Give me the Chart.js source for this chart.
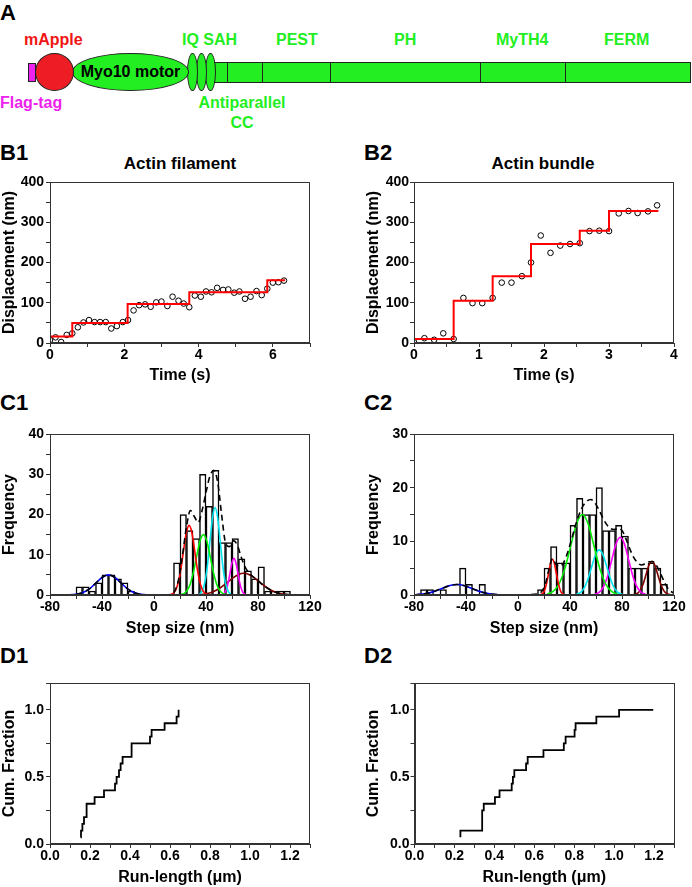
<!DOCTYPE html>
<html>
<head>
<meta charset="utf-8">
<script src="https://cdn.jsdelivr.net/npm/chart.js@4"></script>
<style>
body { margin: 0; background: #fff; }
#page { position: relative; width: 692px; height: 887px; overflow: hidden;
  font-family: "Liberation Sans", Arial, sans-serif; font-weight: bold; }
.t { position: absolute; white-space: nowrap; line-height: 1; }
.lbl { font-size: 22px; color: #000; }
.sub { font-size: 17px; color: #000; transform: translateX(-50%); }
.dom { font-size: 16px; color: #22ee22; }
.shape { position: absolute; box-sizing: border-box; border: 1px solid #222; }
canvas { position: absolute; }
</style>
</head>
<body>
<div id="page">
  <!-- panel A: construct schematic -->
  <div class="t lbl" style="left:0;top:2px">A</div>
  <div class="shape" style="left:214px;top:62px;width:477px;height:21px;background:#22ee22"></div>
  <div class="shape" style="left:227px;top:62px;width:1px;height:21px;border:0;background:#222"></div>
  <div class="shape" style="left:262px;top:62px;width:1px;height:21px;border:0;background:#222"></div>
  <div class="shape" style="left:330px;top:62px;width:1px;height:21px;border:0;background:#222"></div>
  <div class="shape" style="left:480px;top:62px;width:1px;height:21px;border:0;background:#222"></div>
  <div class="shape" style="left:565px;top:62px;width:1px;height:21px;border:0;background:#222"></div>
  <div class="shape" style="left:205px;top:53px;width:11px;height:38px;border-radius:50%;background:#22ee22"></div>
  <div class="shape" style="left:196px;top:53px;width:11px;height:38px;border-radius:50%;background:#22ee22"></div>
  <div class="shape" style="left:187px;top:53px;width:11px;height:38px;border-radius:50%;background:#22ee22"></div>
  <div class="shape" style="left:72px;top:53px;width:117px;height:38px;border-radius:50%;background:#22ee22;
       display:flex;align-items:center;justify-content:center;font-size:16px;color:#000">Myo10 motor</div>
  <div class="shape" style="left:35px;top:53px;width:39px;height:38px;border-radius:50%;background:#ee1c24"></div>
  <div class="shape" style="left:28px;top:63px;width:8px;height:19px;background:#ee22ee"></div>
  <div class="t dom" style="left:24px;top:32px;color:#f01414">mApple</div>
  <div class="t dom" style="left:182px;top:32px">IQ SAH</div>
  <div class="t dom" style="left:276px;top:32px">PEST</div>
  <div class="t dom" style="left:394px;top:32px">PH</div>
  <div class="t dom" style="left:496px;top:32px">MyTH4</div>
  <div class="t dom" style="left:604px;top:32px">FERM</div>
  <div class="t dom" style="left:0;top:95px;color:#ee22ee">Flag-tag</div>
  <div class="t dom" style="left:242px;top:95px;transform:translateX(-50%)">Antiparallel</div>
  <div class="t dom" style="left:242px;top:115px;transform:translateX(-50%)">CC</div>

  <div class="t lbl" style="left:0;top:142px">B1</div>
  <div class="t lbl" style="left:364px;top:142px">B2</div>
  <div class="t sub" style="left:180px;top:155px">Actin filament</div>
  <div class="t sub" style="left:543px;top:155px">Actin bundle</div>
  <div class="t lbl" style="left:0;top:392px">C1</div>
  <div class="t lbl" style="left:364px;top:392px">C2</div>
  <div class="t lbl" style="left:0;top:645px">D1</div>
  <div class="t lbl" style="left:364px;top:645px">D2</div>

  <canvas id="b1"></canvas>
  <canvas id="b2"></canvas>
  <canvas id="c1"></canvas>
  <canvas id="c2"></canvas>
  <canvas id="d1"></canvas>
  <canvas id="d2"></canvas>
</div>
<script>
// ---- B1: actin filament trace ----
const b1Time = [0, 0.15, 0.3, 0.45, 0.6, 0.75, 0.9, 1.05, 1.2, 1.35, 1.5, 1.65, 1.8, 1.96, 2.1,
  2.25, 2.4, 2.56, 2.71, 2.86, 3.0, 3.16, 3.3, 3.46, 3.6, 3.75, 3.9, 4.06, 4.2, 4.35,
  4.5, 4.66, 4.8, 4.96, 5.1, 5.25, 5.4, 5.56, 5.7, 5.85, 6.0, 6.15, 6.3];
const b1Disp = [7.5, 14, 2.5, 20, 24, 39, 51, 57, 52, 52, 52, 36, 42, 52, 57,
  81, 94, 96, 90, 101, 103, 92, 115, 105, 98, 89, 118, 115, 128, 126,
  137, 132, 133, 125, 128, 110, 115, 129, 119, 135, 150, 151, 155];
const b1StepTime = [0, 0.6, 2.09, 3.75, 5.85, 6.33];
const b1StepLevel = [16, 50, 97, 126, 156, 156];

// ---- B2: actin bundle trace ----
const b2Time = [0, 0.16, 0.31, 0.45, 0.61, 0.76, 0.9, 1.05, 1.21, 1.35, 1.5, 1.66, 1.8,
  1.95, 2.1, 2.25, 2.4, 2.55, 2.7, 2.85, 3.0, 3.15, 3.3, 3.44, 3.6, 3.74];
const b2Disp = [2, 12, 8, 24, 10, 112, 99, 99, 112, 150, 150, 166, 200,
  267, 224, 242, 246, 248, 278, 279, 278, 322, 328, 323, 327, 342];
const b2StepTime = [0, 0.61, 1.21, 1.8, 2.55, 3.0, 3.76];
const b2StepLevel = [10, 105, 166, 246, 279, 328, 328];

// ---- C1: step size histogram (bin start, 5 nm bins) and fitted peaks ----
const c1BinStart = [-60, -55, -50, -45, -40, -35, -30, -25, -20,
  15, 20, 25, 30, 35, 40, 45, 50, 55, 60, 65, 70, 75, 80, 85, 90, 95, 100];
const c1Count = [2, 2, 1, 3, 5, 5, 4, 3, 1,
  8, 20, 16, 14, 30, 22, 31, 13, 13, 14, 9, 6, 4, 7, 1, 1, 1, 1];
const c1BlueX = [-75, -70, -65, -60, -55, -50, -45, -40, -35, -30, -25, -20, -15, -10, -5, 0];
const c1BlueY = [0, 0.01, 0.03, 0.16, 0.55, 1.44, 2.87, 4.35, 5.0, 4.35, 2.87, 1.44, 0.55, 0.16, 0.03, 0];
const c1RedX = [13, 15, 17, 19, 21, 23, 25, 27, 29, 31, 33, 35, 37, 39, 41];
const c1RedY = [0.14, 0.49, 1.46, 3.56, 7.11, 11.66, 15.67, 17.3, 15.67, 11.66, 7.11, 3.56, 1.46, 0.49, 0.14];
const c1GreenX = [20.5, 23, 25.5, 28, 30.5, 33, 35.5, 38, 40.5, 43, 45.5, 48, 50.5, 53, 55.5];
const c1GreenY = [0.09, 0.36, 1.14, 2.88, 5.92, 9.92, 13.53, 15.0, 13.53, 9.92, 5.92, 2.88, 1.14, 0.36, 0.09];
const c1CyanX = [35, 37, 39, 41, 43, 45, 47, 49, 51, 53, 55, 57, 59];
const c1CyanY = [0.24, 0.95, 2.94, 7.05, 13.16, 19.15, 21.7, 19.15, 13.16, 7.05, 2.94, 0.95, 0.24];
const c1MagX = [52.5, 54, 55.5, 57, 58.5, 60, 61.5, 63, 64.5, 66, 67.5, 69, 70.5];
const c1MagY = [0.1, 0.4, 1.23, 2.95, 5.52, 8.03, 9.1, 8.03, 5.52, 2.95, 1.23, 0.4, 0.1];
const c1BrownX = [-80, 20, 30, 35, 40, 45, 50, 55, 60, 65, 69, 73, 78, 83, 88, 93, 98, 103, 108, 120];
const c1BrownY = [0, 0, 0.03, 0.1, 0.29, 0.73, 1.54, 2.73, 4.08, 5.11, 5.4, 5.11, 4.08, 2.73, 1.54, 0.73, 0.29, 0.1, 0.03, 0];
const c1SumX = [-75, -70, -65, -60, -55, -50, -45, -40, -35, -30, -25, -20, -15, -10, -5, 0, 5,
  10, 13, 16, 19, 22, 25, 28, 31, 34, 37, 40, 43, 46, 49, 52, 55, 58, 61, 64, 67, 70,
  73, 76, 79, 82, 85, 88, 91, 94, 97, 100, 105, 110, 120];
const c1SumY = [0, 0.01, 0.03, 0.16, 0.55, 1.44, 2.87, 4.35, 5.0, 4.35, 2.87, 1.44, 0.55, 0.16, 0.04, 0.01, 0,
  0.02, 0.2, 1, 4, 10, 17, 21, 19.5, 18, 21, 25.5, 29.5, 31, 28, 20, 13, 12, 13.5, 12.5, 9.5, 7,
  5.5, 4.6, 3.8, 3, 2.2, 1.55, 1, 0.62, 0.36, 0.19, 0.06, 0.02, 0];

// ---- C2 ----
const c2BinStart = [-75, -70, -60, -45, -40, -30,
  15, 20, 25, 30, 35, 40, 45, 50, 55, 60, 65, 70, 75, 80, 85, 90, 95, 100, 105, 110];
const c2Count = [1, 1, 1, 5, 2, 2,
  1, 5, 9, 6, 6, 13, 18, 15, 15, 20, 12, 12, 13, 11, 5, 5, 5, 6, 5, 2];
const c2BlueX = [-80, -77, -71, -65, -59, -53, -47, -41, -35, -29, -23, -17, -11, -5];
const c2BlueY = [0.04, 0.09, 0.26, 0.63, 1.18, 1.72, 1.95, 1.72, 1.18, 0.63, 0.26, 0.09, 0.02, 0];
const c2RedX = [17.5, 19, 20.5, 22, 23.5, 25, 26.5, 28, 29.5, 31, 32.5, 34, 35.5];
const c2RedY = [0.07, 0.29, 0.9, 2.16, 4.04, 5.87, 6.65, 5.87, 4.04, 2.16, 0.9, 0.29, 0.07];
const c2GreenX = [22.5, 27, 31.5, 36, 40.5, 45, 49.5, 54, 58.5, 63, 67.5, 72, 76.5];
const c2GreenY = [0.17, 0.66, 2.03, 4.87, 9.1, 13.24, 15.0, 13.24, 9.1, 4.87, 2.03, 0.66, 0.17];
const c2CyanX = [44.5, 47.5, 50.5, 53.5, 56.5, 59.5, 62.5, 65.5, 68.5, 71.5, 74.5, 77.5, 80.5];
const c2CyanY = [0.09, 0.37, 1.13, 2.73, 5.1, 7.41, 8.4, 7.41, 5.1, 2.73, 1.13, 0.37, 0.09];
const c2MagX = [59, 62.4, 65.6, 68.9, 72.1, 75.4, 78.6, 81.9, 85.1, 88.4, 91.6, 94.9, 98.1];
const c2MagY = [0.12, 0.47, 1.45, 3.49, 6.53, 9.48, 10.75, 9.48, 6.53, 3.49, 1.45, 0.47, 0.12];
const c2BrownX = [-80, 80, 89.5, 91.75, 94, 96.25, 98.5, 100.75, 103, 105.25, 107.5, 109.75, 112, 114.25, 116.5, 120];
const c2BrownY = [0, 0, 0.07, 0.28, 0.85, 2.05, 3.82, 5.56, 6.3, 5.56, 3.82, 2.05, 0.85, 0.28, 0.07, 0];
const c2SumX = [-80, -77, -71, -65, -59, -53, -47, -41, -35, -29, -23, -17, -11, -5,
  15, 18, 21, 24, 26.5, 29, 32, 35, 38, 41, 44, 47, 50, 53, 56, 59, 62, 65, 68, 71, 74, 77,
  80, 83, 86, 89, 92, 95, 98, 101, 104, 107, 110, 113, 116, 120];
const c2SumY = [0.04, 0.09, 0.26, 0.63, 1.18, 1.72, 1.95, 1.72, 1.18, 0.63, 0.26, 0.09, 0.02, 0,
  0.2, 0.6, 2, 5, 6.8, 5.8, 5.3, 6, 7.8, 10.2, 12.8, 15, 16.6, 17.5, 17.8, 17.2, 16, 14.5, 13.2, 12.4, 12.2, 12.4,
  12, 10.5, 8.6, 7, 6, 5.6, 5.8, 6.2, 6.2, 5.3, 3.8, 2.2, 1, 0.3];

// ---- D: cumulative run-length ----
const d1Run = [0.153, 0.155, 0.162, 0.17, 0.183, 0.183, 0.223, 0.27, 0.325, 0.333,
  0.345, 0.353, 0.363, 0.408, 0.408, 0.5, 0.508, 0.573, 0.633, 0.643];
const d1Frac = [0.05, 0.1, 0.15, 0.2, 0.25, 0.3, 0.35, 0.4, 0.45, 0.5,
  0.55, 0.6, 0.65, 0.7, 0.75, 0.8, 0.85, 0.9, 0.95, 1.0];
const d2Run = [0.23, 0.23, 0.339, 0.339, 0.339, 0.347, 0.403, 0.426, 0.487, 0.493,
  0.5, 0.559, 0.567, 0.646, 0.748, 0.757, 0.802, 0.807, 0.911, 1.025, 1.196];
const d2Frac = [0.05, 0.1, 0.15, 0.2, 0.25, 0.3, 0.35, 0.4, 0.45, 0.5,
  0.55, 0.6, 0.65, 0.7, 0.75, 0.8, 0.85, 0.9, 0.95, 1.0, 1.0];

Chart.defaults.font.family = '"Liberation Sans", Arial, sans-serif';
Chart.defaults.font.weight = 'bold';
Chart.defaults.color = '#000';

const pts = (xs, ys) => xs.map((x, i) => ({ x: x, y: ys[i] }));

// box around the plot area
const framePlugin = {
  id: 'frame',
  afterDraw(chart) {
    const a = chart.chartArea;
    const ctx = chart.ctx;
    ctx.save();
    ctx.strokeStyle = '#333';
    ctx.lineWidth = 1;
    ctx.strokeRect(Math.round(a.left) + 0.5, Math.round(a.top) + 0.5,
      Math.round(a.right - a.left) - 1, Math.round(a.bottom - a.top) - 1);
    ctx.restore();
  }
};

function axis(min, max, step, every, title, fmt, pad) {
  return {
    type: 'linear', min: min, max: max, offset: false,
    ticks: {
      stepSize: step, autoSkip: false, maxRotation: 0, padding: pad,
      font: { size: 14, lineHeight: 1 },
      callback: v => Math.abs(v / every - Math.round(v / every)) < 1e-6 ? fmt(v) : ''
    },
    grid: { display: true, drawOnChartArea: false, drawTicks: true, tickLength: 4, color: '#333', offset: false },
    border: { display: true, color: '#333', width: 1 },
    title: { display: true, text: title, font: { size: 16, lineHeight: 1.2 }, padding: 0 }
  };
}

function panel(id, box, area, type, datasets, xAx, yAx) {
  const cv = document.getElementById(id);
  cv.width = box.w;
  cv.height = box.h;
  cv.style.left = box.x + 'px';
  cv.style.top = box.y + 'px';
  xAx.afterFit = s => { s.height = box.y + box.h - area.b; s.paddingLeft = 0; s.paddingRight = 0; };
  yAx.afterFit = s => { s.width = area.l - box.x; s.paddingTop = 0; s.paddingBottom = 0; };
  return new Chart(cv, {
    type: type,
    data: { datasets: datasets },
    options: {
      responsive: false,
      animation: false,
      layout: { padding: { top: area.t - box.y, right: box.x + box.w - area.r, left: 0, bottom: 0 } },
      plugins: { legend: { display: false }, tooltip: { enabled: false } },
      scales: { x: xAx, y: yAx }
    },
    plugins: [framePlugin]
  });
}

const int = v => String(v);
const one = v => v.toFixed(1);

function traceSets(t, d, st, sl) {
  return [
    { type: 'line', data: pts(st, sl), stepped: 'before', borderColor: '#ff0000', borderWidth: 2,
      pointRadius: 0, fill: false, order: 0 },
    { type: 'line', data: pts(t, d), showLine: false, pointStyle: 'circle', pointRadius: 2.8,
      pointBorderWidth: 1, pointBorderColor: '#000', pointBackgroundColor: 'rgba(0,0,0,0)', order: 1 }
  ];
}

function curve(xs, ys, color, order, dash) {
  return { type: 'line', data: pts(xs, ys), borderColor: color, borderWidth: 1.6, pointRadius: 0,
    cubicInterpolationMode: 'monotone', fill: false, order: order, borderDash: dash || [] };
}

function histSets(bs, cs) {
  return { type: 'bar', data: bs.map((b, i) => ({ x: b + 2.5, y: cs[i] })),
    backgroundColor: '#fff', borderColor: '#000', borderWidth: 1.5,
    barPercentage: 1, categoryPercentage: 1, order: 10 };
}

panel('b1', { x: 0, y: 170, w: 330, h: 215 }, { l: 50, t: 182, r: 310, b: 343 }, 'line',
  traceSets(b1Time, b1Disp, b1StepTime, b1StepLevel),
  axis(0, 7, 1, 2, 'Time (s)', int, 1),
  axis(0, 400, 50, 100, 'Displacement (nm)', int, 2));

panel('b2', { x: 363.5, y: 170, w: 328.5, h: 215 }, { l: 413.5, t: 182, r: 674, b: 343 }, 'line',
  traceSets(b2Time, b2Disp, b2StepTime, b2StepLevel),
  axis(0, 4, 0.5, 1, 'Time (s)', int, 1),
  axis(0, 400, 50, 100, 'Displacement (nm)', int, 1));

panel('c1', { x: 0, y: 420, w: 330, h: 218 }, { l: 50, t: 434, r: 310, b: 595 }, 'bar',
  [histSets(c1BinStart, c1Count),
   curve(c1BlueX, c1BlueY, '#0000ff', 3),
   curve(c1BrownX, c1BrownY, '#800000', 3),
   curve(c1RedX, c1RedY, '#ff0000', 2),
   curve(c1GreenX, c1GreenY, '#00ee00', 2),
   curve(c1CyanX, c1CyanY, '#00e5ee', 2),
   curve(c1MagX, c1MagY, '#ff00ff', 2),
   curve(c1SumX, c1SumY, '#000', 0, [6, 4])],
  axis(-80, 120, 20, 40, 'Step size (nm)', int, 1),
  axis(0, 40, 5, 10, 'Frequency', int, 2));

panel('c2', { x: 363.5, y: 420, w: 328.5, h: 218 }, { l: 413.5, t: 434, r: 674, b: 595 }, 'bar',
  [histSets(c2BinStart, c2Count),
   curve(c2BlueX, c2BlueY, '#0000ff', 3),
   curve(c2BrownX, c2BrownY, '#800000', 3),
   curve(c2RedX, c2RedY, '#ff0000', 2),
   curve(c2GreenX, c2GreenY, '#00ee00', 2),
   curve(c2CyanX, c2CyanY, '#00e5ee', 2),
   curve(c2MagX, c2MagY, '#ff00ff', 2),
   curve(c2SumX, c2SumY, '#000', 0, [6, 4])],
  axis(-80, 120, 20, 40, 'Step size (nm)', int, 1),
  axis(0, 30, 5, 10, 'Frequency', int, 2));

function cdfSet(xs, ys) {
  return [{ type: 'line', data: pts(xs, ys), stepped: 'before', borderColor: '#000', borderWidth: 1.8,
    pointRadius: 0, fill: false }];
}

panel('d1', { x: 0, y: 670, w: 330, h: 217 }, { l: 50, t: 683, r: 310, b: 844 }, 'line',
  cdfSet(d1Run, d1Frac),
  axis(0, 1.3, 0.1, 0.2, 'Run-length (\u03bcm)', one, 1),
  axis(0, 1.2, 0.25, 0.5, 'Cum. Fraction', one, 2));

panel('d2', { x: 363.5, y: 670, w: 328.5, h: 217 }, { l: 414, t: 683, r: 674, b: 844 }, 'line',
  cdfSet(d2Run, d2Frac),
  axis(0, 1.3, 0.1, 0.2, 'Run-length (\u03bcm)', one, 1),
  axis(0, 1.2, 0.25, 0.5, 'Cum. Fraction', one, 1));
</script>
</body>
</html>
